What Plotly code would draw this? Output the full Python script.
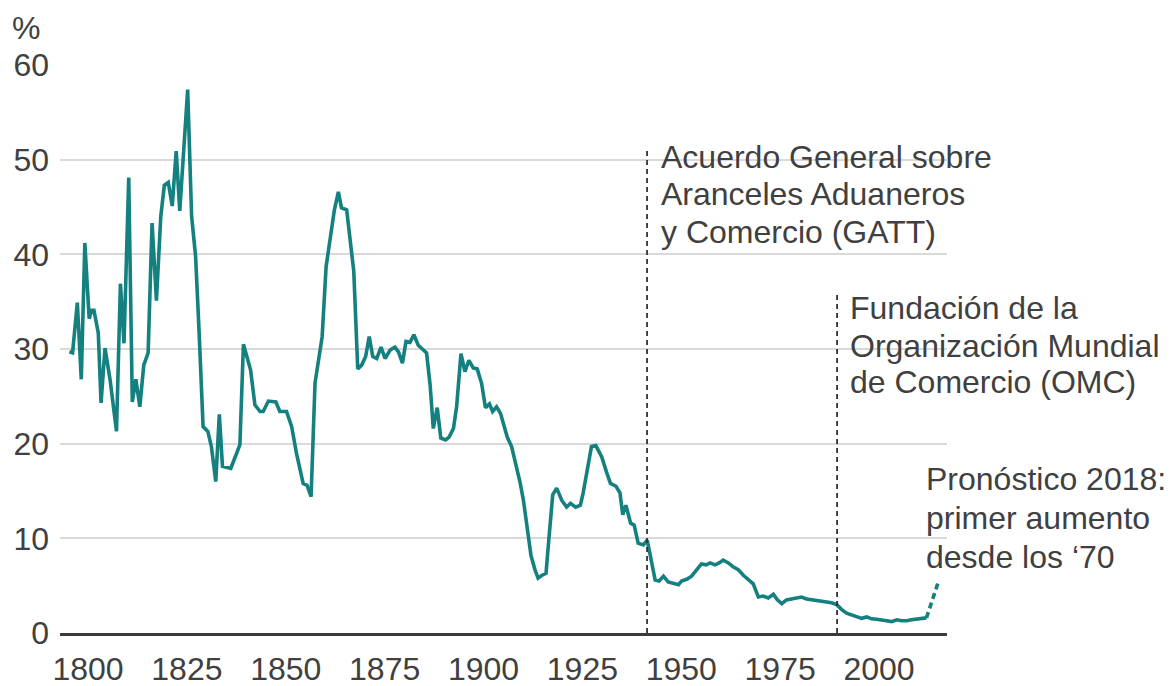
import plotly.graph_objects as go

# ---- data ----
years = [1795.3, 1796.1, 1797.3, 1798.3, 1799.2, 1800.3, 1800.9, 1801.5, 1802.6, 1803.3,
         1804.3, 1805.6, 1807.2, 1808.2, 1809.1, 1810.3, 1811.2, 1812.1, 1813.1, 1814.1,
         1815.2, 1816.2, 1817.3, 1818.4, 1819.3, 1820.3, 1821.3, 1822.3, 1823.2, 1825.2,
         1826.2, 1827.2, 1828.1, 1829.1, 1830.3, 1831.2, 1832.3, 1833.2, 1834.0, 1836.1,
         1837.6, 1838.4, 1839.3, 1841.1, 1842.2, 1843.5, 1844.3, 1845.6, 1847.5, 1848.5,
         1850.2, 1851.5, 1852.7, 1854.4, 1855.4, 1856.4, 1857.4, 1858.3, 1859.2, 1860.2,
         1861.3, 1862.3, 1863.3, 1864.1, 1865.4, 1866.5, 1867.2, 1868.2, 1869.2, 1870.2,
         1871.1, 1872.0, 1873.0, 1874.1, 1875.1, 1876.4, 1877.6, 1878.5, 1879.5, 1880.4,
         1881.4, 1882.4, 1883.5, 1884.8, 1885.6, 1886.5, 1887.3, 1888.3, 1889.2, 1890.4,
         1891.3, 1892.4, 1893.2, 1894.3, 1895.3, 1896.3, 1897.4, 1898.4, 1899.5, 1900.5,
         1901.5, 1902.3, 1903.3, 1904.3, 1905.2, 1906.0, 1907.1, 1908.2, 1909.2, 1910.1,
         1911.0, 1912.0, 1913.0, 1913.8, 1914.8, 1915.8, 1916.5, 1917.5, 1918.5, 1919.8,
         1921.0, 1922.0, 1923.3, 1924.5, 1925.2, 1926.5, 1927.3, 1928.4, 1929.9, 1931.1,
         1932.1, 1933.5, 1934.5, 1935.2, 1936.0, 1937.2, 1938.1, 1939.1, 1940.4, 1941.4,
         1942.3, 1943.4, 1944.4, 1945.5, 1946.7, 1948.2, 1949.3, 1950.1, 1951.5, 1952.6,
         1953.9, 1955.1, 1956.3, 1957.3, 1958.5, 1959.6, 1960.6, 1961.9, 1963.1, 1964.4,
         1965.7, 1966.9, 1968.2, 1969.5, 1970.7, 1972.0, 1973.3, 1974.3, 1975.4, 1976.6,
         1977.9, 1979.2, 1980.4, 1981.7, 1983.0, 1984.2, 1985.5, 1986.7, 1988.0, 1989.3,
         1990.5, 1991.8, 1993.1, 1994.3, 1995.6, 1996.9, 1998.1, 1999.4, 2000.7, 2001.9,
         2003.2, 2004.5, 2005.7, 2007.0, 2008.2, 2009.5, 2010.8, 2012.0]
tariff = [29.7, 29.6, 34.9, 26.8, 41.2, 33.2, 34.1, 34.1, 31.7, 24.3,
          30.1, 26.7, 21.3, 36.9, 30.6, 48.1, 24.4, 26.8, 23.9, 28.3,
          29.6, 43.3, 35.1, 44.0, 47.3, 47.6, 45.1, 50.9, 44.6, 57.4,
          44.0, 39.8, 31.7, 21.8, 21.3, 19.7, 16.0, 23.1, 17.6, 17.4,
          19.0, 19.9, 30.5, 27.8, 24.1, 23.4, 23.4, 24.5, 24.4, 23.4,
          23.4, 21.8, 19.0, 15.8, 15.6, 14.4, 26.4, 28.6, 31.3, 38.7,
          42.2, 44.7, 46.6, 44.9, 44.7, 40.5, 38.2, 27.9, 28.3, 29.2,
          31.3, 29.2, 29.0, 30.2, 29.0, 29.9, 30.2, 29.7, 28.5, 30.8,
          30.7, 31.5, 30.4, 29.9, 29.6, 26.2, 21.6, 23.8, 20.6, 20.4,
          20.7, 21.6, 23.9, 29.5, 27.6, 28.8, 28.0, 27.9, 26.4, 23.8,
          24.2, 23.4, 23.9, 23.2, 21.8, 20.7, 19.7, 17.9, 16.0, 14.0,
          10.9, 8.2, 6.7, 5.8, 6.1, 6.3, 9.8, 14.6, 15.3, 14.0,
          13.3, 13.7, 13.3, 13.5, 14.8, 17.9, 19.7, 19.8, 18.6, 17.0,
          15.8, 15.5, 14.8, 12.5, 13.5, 11.6, 11.4, 9.5, 9.3, 9.8,
          7.7, 5.6, 5.5, 6.0, 5.4, 5.2, 5.1, 5.5, 5.7, 6.0,
          6.7, 7.3, 7.2, 7.4, 7.2, 7.4, 7.7, 7.4, 7.0, 6.7,
          6.1, 5.7, 5.2, 3.8, 3.9, 3.7, 4.1, 3.5, 3.1, 3.5,
          3.6, 3.7, 3.8, 3.6, 3.5, 3.5, 3.4, 3.3, 3.2, 3.0,
          2.5, 2.1, 1.9, 1.7, 1.55, 1.7, 1.5, 1.45, 1.4, 1.3,
          1.2, 1.4, 1.3, 1.3, 1.4, 1.45, 1.5, 1.6]
forecast_years = [2012.0, 2015.0]
forecast_values = [1.6, 5.4]

x_ticks = [1800, 1825, 1850, 1875, 1900, 1925, 1950, 1975, 2000]
x_ticktext = ["1800", "1825", "1850", "1875", "1900", "1925", "1950", "1975", "2000"]
y_ticks = [0, 10, 20, 30, 40, 50, 60]
y_ticktext = ["0", "10", "20", "30", "40", "50", "60"]

gatt_year = 1941.35
omc_year = 1989.4
gatt_lines = ["Acuerdo General sobre", "Aranceles Aduaneros", "y Comercio (GATT)"]
omc_lines = ["Fundación de la", "Organización Mundial", "de Comercio (OMC)"]
forecast_lines = ["Pronóstico 2018:", "primer aumento", "desde los \u201870"]

# ---- styling ----
TEAL = "#14807f"
TEXT = "#404040"
FONT = "Liberation Sans, Arial, Helvetica, sans-serif"
FS = 32

fig = go.Figure()
fig.add_trace(go.Scatter(x=years, y=tariff, mode="lines",
                         line=dict(color=TEAL, width=3.6), hoverinfo="skip"))
fig.add_trace(go.Scatter(x=forecast_years, y=forecast_values, mode="lines",
                         line=dict(color=TEAL, width=3.6, dash="6px,4px"), hoverinfo="skip"))

# vertical dashed markers
fig.add_shape(type="line", x0=gatt_year, x1=gatt_year, y0=0, y1=51.3,
              xref="x", yref="y", line=dict(color="#333333", width=1.8, dash="5px,4px"))
fig.add_shape(type="line", x0=omc_year, x1=omc_year, y0=0, y1=35.8,
              xref="x", yref="y", line=dict(color="#333333", width=1.8, dash="5px,4px"))

annotations = []
def add_lines(lines, x, ys):
    for t, yv in zip(lines, ys):
        annotations.append(dict(text=t, x=x, y=yv, xref="x", yref="y",
                                xanchor="left", yanchor="middle", showarrow=False,
                                font=dict(family=FONT, size=FS, color=TEXT)))

add_lines(gatt_lines, 1944.3, [50.33, 46.37, 42.41])
add_lines(omc_lines, 1992.2, [34.28, 30.37, 26.51])
add_lines(forecast_lines, 2011.4, [16.27, 12.15, 8.03])

# "%" unit label, anchored at the top edge of the figure
annotations.append(dict(text="%", x=-0.0383, y=1.1004, xref="paper", yref="paper",
                        xanchor="center", yanchor="top", showarrow=False,
                        font=dict(family=FONT, size=FS, color=TEXT)))

# page has an 8px body margin: figure is shrunk by 8px so it fits in the window;
# plot area lands at page x 60..947, y 65..633
fig.update_layout(
    width=1164, height=678,
    margin=dict(l=52, r=225, t=57, b=53, autoexpand=False),
    paper_bgcolor="white", plot_bgcolor="white",
    showlegend=False,
    annotations=annotations,
    xaxis=dict(range=[1792.92, 2017.19], tickvals=x_ticks, ticktext=x_ticktext,
               showgrid=False, zeroline=False, showline=True, linecolor="#3a3a3a",
               linewidth=3, ticks="", ticklabelstandoff=6, automargin=False,
               tickfont=dict(family=FONT, size=FS, color=TEXT), fixedrange=True),
    yaxis=dict(range=[0, 60], tickvals=y_ticks, ticktext=y_ticktext,
               showgrid=True, gridcolor="#d9d9d9", gridwidth=1.6, zeroline=False,
               showline=False, ticks="", ticklabelstandoff=10, automargin=False,
               tickfont=dict(family=FONT, size=FS, color=TEXT), fixedrange=True),
)

fig.write_html("out.html")
